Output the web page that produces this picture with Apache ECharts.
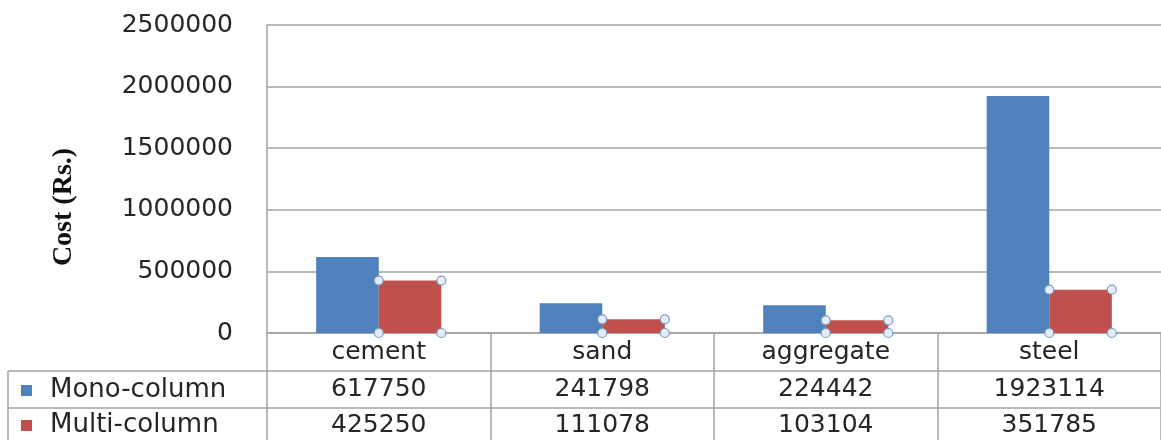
<!DOCTYPE html>
<html>
<head>
<meta charset="utf-8">
<script src="https://cdn.jsdelivr.net/npm/echarts@6/dist/echarts.min.js"></script>
<style>
  html, body { margin: 0; padding: 0; background: #fff; }
  #chart { width: 1161px; height: 440px; }
</style>
</head>
<body>
<div id="chart"></div>
<script>
const categories = ['cement', 'sand', 'aggregate', 'steel'];
const monoColumn = [617750, 241798, 224442, 1923114];
const multiColumn = [425250, 111078, 103104, 351785];
const yTicks = { min: 0, max: 2500000, interval: 500000 };

const BLUE = '#4F81BD';
const RED = '#C0504D';
const LINE = '#a3a3a3';
const TEXT = '#262626';
const FONT = 'DejaVu Sans';
const BAR_RATIO = 0.28;

const chart = echarts.init(document.getElementById('chart'), null, { renderer: 'canvas' });

// little selection handles sitting on the corners of the red bars
function renderHandles(params, api) {
  const idx = api.value(0);
  const top = api.coord([idx, api.value(1)]);
  const base = api.coord([idx, 0]);
  const band = api.size([1, 0])[0];
  const x0 = top[0];
  const x1 = top[0] + band * BAR_RATIO;
  const pts = [[x0, top[1]], [x1, top[1]], [x0, base[1]], [x1, base[1]]];
  return {
    type: 'group',
    children: pts.map(p => ({
      type: 'circle',
      shape: { cx: p[0], cy: p[1], r: 4.5 },
      style: { fill: '#e4edf7', stroke: '#7c9cc4', lineWidth: 1.2 },
    })),
  };
}

chart.setOption({
  backgroundColor: '#fff',
  animation: false,
  grid: { left: 267, right: -5, top: 25, bottom: 107, containLabel: false },
  legend: {
    orient: 'vertical',
    left: 21,
    top: 377,
    height: 80,
    padding: 0,
    icon: 'rect',
    itemWidth: 11,
    itemHeight: 11,
    itemGap: 8,
    selectedMode: false,
    data: ['Mono-column', 'Multi-column'],
    textStyle: { fontFamily: FONT, fontSize: 26, color: TEXT, lineHeight: 27, padding: [0, 0, 0, 13] },
  },
  xAxis: {
    type: 'category',
    data: categories,
    axisLine: { show: true, lineStyle: { color: LINE, width: 1.5 } },
    axisTick: { show: true, interval: 0, length: 110, lineStyle: { color: LINE, width: 1.5 } },
    axisLabel: {
      interval: 0,
      margin: 0,
      formatter: (value, index) =>
        `{n|${value}}\n{v|${monoColumn[index]}}\n{v|${multiColumn[index]}}`,
      rich: {
        n: { fontFamily: FONT, fontSize: 25, color: TEXT, lineHeight: 38 },
        v: { fontFamily: FONT, fontSize: 25, color: TEXT, lineHeight: 36 },
      },
    },
  },
  yAxis: {
    type: 'value',
    min: yTicks.min,
    max: yTicks.max,
    interval: yTicks.interval,
    axisLine: { show: true, lineStyle: { color: LINE, width: 1.5 } },
    axisTick: { show: false },
    axisLabel: { margin: 34, fontFamily: FONT, fontSize: 25, color: TEXT, formatter: v => String(v) },
    splitLine: { show: true, lineStyle: { color: LINE, width: 1.5 } },
  },
  graphic: [
    {
      type: 'text',
      x: 64, y: 207,
      rotation: Math.PI / 2,
      style: {
        text: 'Cost (Rs.)',
        font: 'bold 28px "Liberation Serif", serif',
        fill: '#111',
        align: 'center',
        verticalAlign: 'middle',
      },
    },
    { type: 'line', shape: { x1: 8, y1: 371, x2: 1161, y2: 371 }, style: { stroke: LINE, lineWidth: 1.5 } },
    { type: 'line', shape: { x1: 8, y1: 408, x2: 1161, y2: 408 }, style: { stroke: LINE, lineWidth: 1.5 } },
    { type: 'line', shape: { x1: 8, y1: 371, x2: 8, y2: 440 }, style: { stroke: LINE, lineWidth: 1.5 } },
  ],
  series: [
    {
      name: 'Mono-column',
      type: 'bar',
      data: monoColumn,
      barWidth: (BAR_RATIO * 100) + '%',
      barGap: '0%',
      itemStyle: { color: BLUE },
    },
    {
      name: 'Multi-column',
      type: 'bar',
      data: multiColumn,
      barWidth: (BAR_RATIO * 100) + '%',
      barGap: '0%',
      itemStyle: { color: RED },
    },
    {
      type: 'custom',
      renderItem: renderHandles,
      data: multiColumn.map((v, i) => [i, v]),
      encode: { x: 0, y: 1 },
      silent: true,
      z: 5,
    },
  ],
});
</script>
</body>
</html>
